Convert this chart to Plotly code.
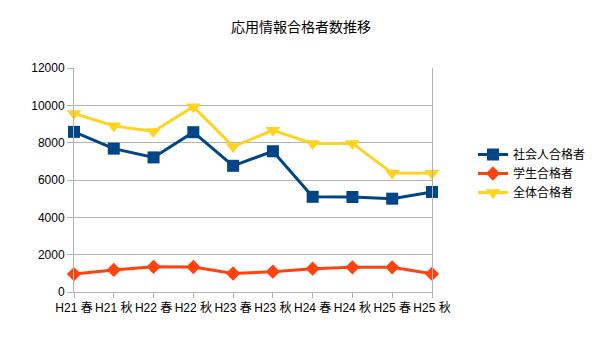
import plotly.graph_objects as go

categories = ["H21 春", "H21 秋", "H22 春", "H22 秋", "H23 春", "H23 秋",
              "H24 春", "H24 秋", "H25 春", "H25 秋"]
shakaijin = [8580, 7680, 7210, 8560, 6760, 7540, 5100, 5090, 5000, 5360]
gakusei = [960, 1180, 1350, 1340, 990, 1090, 1250, 1320, 1320, 970]
zentai = [9560, 8900, 8600, 9930, 7790, 8660, 7960, 7960, 6370, 6360]
series_names = ["社会人合格者", "学生合格者", "全体合格者"]

FONT = "Liberation Sans, Noto Sans CJK JP, sans-serif"
colors = ["#004586", "#ff420e", "#ffd320"]
symbols = ["square", "diamond", "triangle-down"]
sizes = [12, 11, 13]

fig = go.Figure()
for name, vals, c, s, sz in zip(series_names, [shakaijin, gakusei, zentai], colors, symbols, sizes):
    fig.add_trace(go.Scatter(
        x=categories, y=vals, name=name, mode="lines+markers",
        line=dict(color=c, width=3),
        marker=dict(color=c, symbol=s, size=sz, line=dict(width=0)),
        cliponaxis=False,
    ))

fig.update_layout(
    width=605, height=340,
    margin=dict(l=74, r=173, t=68, b=48),
    paper_bgcolor="white", plot_bgcolor="white",
    font=dict(family=FONT, size=12, color="black"),
    title=dict(text="応用情報合格者数推移", x=301/605, xanchor="center",
               y=1 - 27/340, yanchor="middle", yref="container", xref="container",
               font=dict(family="Noto Sans CJK JP, sans-serif", size=14, color="black")),
    showlegend=True,
    legend=dict(xref="container", yref="container", x=473/605, y=1 - 140/340,
                xanchor="left", yanchor="top", bgcolor="rgba(0,0,0,0)",
                font=dict(size=12, family="Noto Sans CJK JP, sans-serif"),
                tracegroupgap=0, itemwidth=30),
)
fig.update_xaxes(
    type="category", range=[0, 9], showgrid=False,
    showline=True, linecolor="#b3b3b3", linewidth=1,
    ticks="outside", ticklen=5, tickcolor="#b3b3b3",
    tickfont=dict(size=12), zeroline=False,
)
fig.update_yaxes(
    range=[0, 12000], dtick=2000, showgrid=True, gridcolor="#b3b3b3", gridwidth=1,
    showline=True, linecolor="#b3b3b3", linewidth=1, mirror=True,
    ticks="outside", ticklen=6, tickcolor="#b3b3b3",
    tickfont=dict(size=12), zeroline=False, tickformat="d",
)
fig.write_html("out.html")
